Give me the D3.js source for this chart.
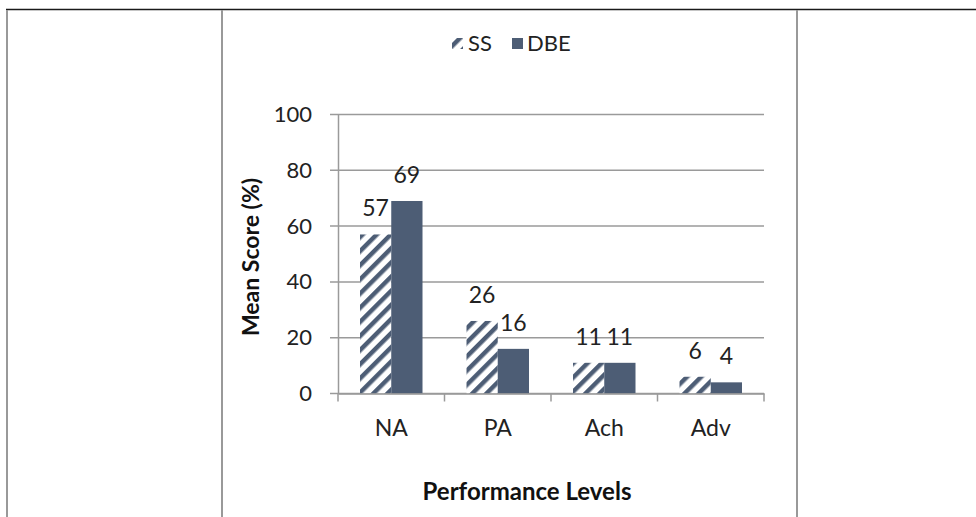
<!DOCTYPE html>
<html><head><meta charset="utf-8">
<script src="https://cdn.jsdelivr.net/npm/d3@7"></script>
<style>body{margin:0;background:#fff}svg{display:block}</style>
</head><body>
<svg id="c" width="976" height="517"></svg>
<script>
const categories = ["NA","PA","Ach","Adv"];
const seriesNames = ["SS","DBE"];
const ssValues = [57,26,11,6];
const dbeValues = [69,16,11,4];
const yTicks = [0,20,40,60,80,100];

const svg = d3.select("#c");
const font = "Lato, 'Open Sans', sans-serif";
const dark = "#4d5d75";

// table borders
svg.append("line").attr("x1",6).attr("x2",976).attr("y1",9.5).attr("y2",9.5).attr("stroke","#1a1a1a").attr("stroke-width",1.5);
[7,222,797].forEach(x=>svg.append("line").attr("x1",x).attr("x2",x).attr("y1",10).attr("y2",517).attr("stroke","#999").attr("stroke-width",2));

const defs = svg.append("defs");
const pat = defs.append("pattern").attr("id","hatch").attr("patternUnits","userSpaceOnUse")
  .attr("width",10).attr("height",10).attr("patternTransform","rotate(45)");
pat.append("rect").attr("width",10).attr("height",10).attr("fill","#fff");
pat.append("rect").attr("x",0).attr("width",4.5).attr("height",10).attr("fill",dark);

const x0 = d3.scaleBand().domain(categories).range([338,764]).paddingInner(0).paddingOuter(0);
const x1 = d3.scaleBand().domain(seriesNames).range([22, x0.bandwidth()-22]);
const y = d3.scaleLinear().domain([0,100]).range([393.5,114.5]);

// gridlines
const grid = svg.append("g");
yTicks.forEach(t=>{
  grid.append("line").attr("x1",330).attr("x2",764).attr("y1",y(t)).attr("y2",y(t)).attr("stroke","#9a9a9a").attr("stroke-width",1.5);
});

// y axis
const yAxis = svg.append("g").attr("transform","translate(338,0)")
  .call(d3.axisLeft(y).tickValues(yTicks).tickSize(0).tickPadding(26));
yAxis.select(".domain").attr("stroke","#9a9a9a").attr("stroke-width",1.5);
yAxis.selectAll("text").attr("font-family",font).attr("font-size",22).attr("fill","#222");

// bars
const data = categories.map((c,i)=>({c, vals:[{s:"SS",v:ssValues[i]},{s:"DBE",v:dbeValues[i]}]}));
const g = svg.append("g");
data.forEach(d=>{
  d.vals.forEach(e=>{
    const bx = x0(d.c)+x1(e.s);
    g.append("rect").attr("x",bx).attr("y",y(e.v)).attr("width",x1.bandwidth()).attr("height",y(0)-y(e.v))
      .attr("fill", e.s==="SS" ? "url(#hatch)" : dark);
    g.append("text").attr("x",bx+x1.bandwidth()/2).attr("y",y(e.v)-18)
      .attr("text-anchor","middle").attr("font-family",font).attr("font-size",23).attr("fill","#222").text(e.v);
  });
});

// x axis
const xAxis = svg.append("g").attr("transform",`translate(0,${y(0)})`)
  .call(d3.axisBottom(x0).tickSize(0).tickPadding(26));
xAxis.select(".domain").attr("stroke","#9a9a9a").attr("stroke-width",1.5);
xAxis.selectAll("text").attr("font-family",font).attr("font-size",23).attr("fill","#222");
const bounds = categories.map(c=>x0(c)).concat([x0(categories[categories.length-1])+x0.bandwidth()]);
bounds.forEach(b=>svg.append("line").attr("x1",b).attr("x2",b).attr("y1",y(0)).attr("y2",y(0)+8).attr("stroke","#9a9a9a").attr("stroke-width",1.5));

// axis titles
svg.append("text").attr("transform","translate(259,257) rotate(-90)").attr("text-anchor","middle")
  .attr("font-family",font).attr("font-weight","bold").attr("font-size",23).attr("fill","#111").text("Mean Score (%)");
svg.append("text").attr("x",527).attr("y",500).attr("text-anchor","middle")
  .attr("font-family",font).attr("font-weight","bold").attr("font-size",24).attr("fill","#111").text("Performance Levels");

// legend
const lg = svg.append("g");
lg.append("rect").attr("x",452).attr("y",38).attr("width",11).attr("height",11).attr("fill","url(#hatch)");
lg.append("text").attr("x",468).attr("y",51).attr("font-family",font).attr("font-size",22).attr("fill","#222").text(seriesNames[0]);
lg.append("rect").attr("x",512).attr("y",38).attr("width",11).attr("height",11).attr("fill",dark);
lg.append("text").attr("x",527).attr("y",51).attr("font-family",font).attr("font-size",22).attr("fill","#222").text(seriesNames[1]);
</script>
</body></html>
